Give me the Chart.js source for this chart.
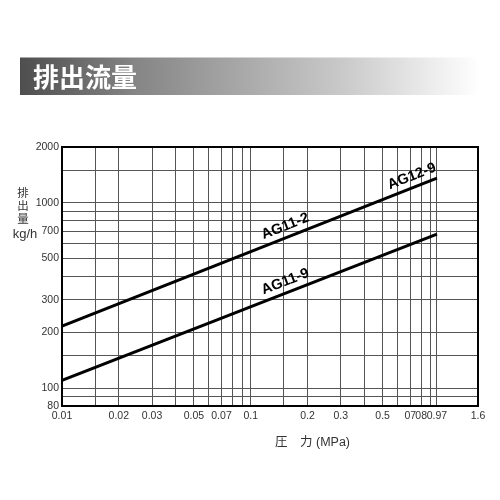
<!DOCTYPE html>
<html><head><meta charset="utf-8">
<script src="https://cdn.jsdelivr.net/npm/chart.js@4"></script>
<style>html,body{margin:0;padding:0;background:#fff}#wrap{width:500px;height:500px;position:relative}</style>
</head><body><div id="wrap"><canvas id="c" width="500" height="500"></canvas></div>
<script>
const pressure = [0.01, 0.97];
const flowAG11_2 = [216, 1360];
const flowAG11_9 = [110, 678];
const seriesNames = ['AG11-2 / AG12-9', 'AG11-9'];
const xGridValues = [0.01,0.015,0.02,0.03,0.04,0.05,0.06,0.07,0.08,0.09,0.1,0.15,0.2,0.3,0.4,0.5,0.6,0.7,0.8,0.9,0.97,1.6];
const xTickValues = [0.01,0.02,0.03,0.05,0.07,0.1,0.2,0.3,0.5,0.7,0.8,0.97,1.6];
const xTickLabels = ['0.01','0.02','0.03','0.05','0.07','0.1','0.2','0.3','0.5','07','08','0.97','1.6'];
const yGridValues = [80,90,100,150,200,300,400,500,600,700,800,900,1000,1500,2000];
const yTickValues = [80,100,200,300,500,700,1000,2000];
const yTickLabels = ['80','100','200','300','500','700','1000','2000'];
const lineLabels = ['AG11-2','AG12-9','AG11-9'];
const lineLabelSeries = [0,0,1];
const lineLabelAt = [0.16,0.75,0.16];
const titleText = '排出流量';
const yTitleChars = ['排','出','量'];
const yUnit = 'kg/h';
const xTitle = '圧　力 (MPa)';

function labelFor(vals, labels, v){
  for (let i=0;i<vals.length;i++) if (Math.abs(vals[i]-v)/vals[i] < 1e-6) return labels[i];
  return '';
}

const decor = {
  id:'decor',
  beforeDraw(chart){
    const ctx = chart.ctx;
    ctx.save();
    const g = ctx.createLinearGradient(20,0,480,0);
    g.addColorStop(0,'#4e4e4e');
    g.addColorStop(0.25,'#858585');
    g.addColorStop(0.5,'#ababab');
    g.addColorStop(0.7,'#c9c9c9');
    g.addColorStop(0.86,'#e6e6e6');
    g.addColorStop(1,'#ffffff');
    ctx.fillStyle = g;
    ctx.fillRect(20,57.5,460,37.5);
    ctx.fillStyle = '#fff';
    ctx.font = 'bold 26px "Noto Sans CJK JP"';
    ctx.textBaseline = 'middle';
    ctx.textAlign = 'left';
    ctx.fillText(titleText,33,77);
    ctx.fillStyle = '#333';
    ctx.font = '11.5px "Noto Sans CJK JP"';
    ctx.textAlign = 'center';
    const ys = [193,206,219];
    yTitleChars.forEach((c,i)=>ctx.fillText(c,23,ys[i]));
    ctx.font = '13px "Liberation Sans"';
    ctx.fillText(yUnit,25,234);
    ctx.font = '12.5px "Liberation Sans", "Noto Sans CJK JP"';
    ctx.textAlign = 'left';
    ctx.fillText(xTitle,275,443);
    ctx.restore();
  },
  afterDatasetsDraw(chart){
    const ctx = chart.ctx, a = chart.chartArea;
    const xs = chart.scales.x, ysc = chart.scales.y;
    ctx.save();
    ctx.strokeStyle = '#000';
    ctx.lineWidth = 2;
    ctx.strokeRect(a.left, a.top, a.right-a.left, a.bottom-a.top);
    ctx.fillStyle = '#000';
    ctx.font = 'bold 14.5px "Liberation Sans"';
    ctx.textAlign = 'center';
    ctx.textBaseline = 'bottom';
    lineLabels.forEach((t,i)=>{
      const ds = chart.data.datasets[lineLabelSeries[i]].data;
      const p0 = ds[0], p1 = ds[ds.length-1];
      const x0 = xs.getPixelForValue(p0.x), y0 = ysc.getPixelForValue(p0.y);
      const x1 = xs.getPixelForValue(p1.x), y1 = ysc.getPixelForValue(p1.y);
      const ang = Math.atan2(y1-y0, x1-x0);
      const f = (Math.log(lineLabelAt[i])-Math.log(p0.x))/(Math.log(p1.x)-Math.log(p0.x));
      const ly = Math.exp(Math.log(p0.y)+f*(Math.log(p1.y)-Math.log(p0.y)));
      const px = xs.getPixelForValue(lineLabelAt[i]), py = ysc.getPixelForValue(ly);
      ctx.save();
      ctx.translate(px, py);
      ctx.rotate(ang);
      ctx.fillText(t, 0, -3.5);
      ctx.restore();
    });
    ctx.restore();
  }
};

new Chart(document.getElementById('c'), {
  type:'scatter',
  data:{datasets:[
    {label:seriesNames[0], data:pressure.map((x,i)=>({x:x,y:flowAG11_2[i]})), showLine:true, borderColor:'#000', borderWidth:3, pointRadius:0, fill:false},
    {label:seriesNames[1], data:pressure.map((x,i)=>({x:x,y:flowAG11_9[i]})), showLine:true, borderColor:'#000', borderWidth:3, pointRadius:0, fill:false}
  ]},
  options:{
    responsive:false, animation:false, devicePixelRatio:1,
    layout:{padding:{left:0,top:147,right:22,bottom:0}},
    plugins:{legend:{display:false}, tooltip:{enabled:false}, title:{display:false}},
    scales:{
      x:{type:'logarithmic', min:0.01, max:1.6,
        afterBuildTicks(s){ s.ticks = xGridValues.map(v=>({value:v})); },
        afterFit(s){ s.height = 94; },
        grid:{color:'#555', lineWidth:1, drawTicks:false},
        border:{display:false},
        ticks:{autoSkip:false, maxRotation:0, minRotation:0, padding:4, color:'#333',
          font:{family:'"Liberation Sans"', size:10.5},
          callback:(v)=>labelFor(xTickValues,xTickLabels,v)}
      },
      y:{type:'logarithmic', min:80, max:2000,
        afterBuildTicks(s){ s.ticks = yGridValues.map(v=>({value:v})); },
        afterFit(s){ s.width = 62; },
        grid:{color:'#555', lineWidth:1, drawTicks:false},
        border:{display:false},
        ticks:{autoSkip:false, padding:3, color:'#333',
          font:{family:'"Liberation Sans"', size:10.5},
          callback:(v)=>labelFor(yTickValues,yTickLabels,v)}
      }
    }
  },
  plugins:[decor]
});
</script></body></html>
